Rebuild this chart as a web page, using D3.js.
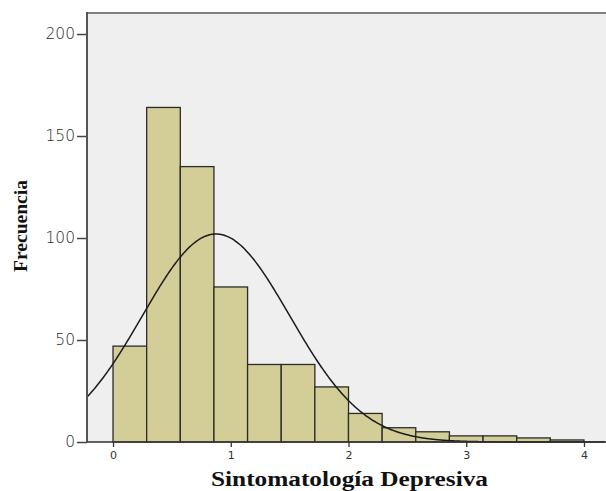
<!DOCTYPE html>
<html>
<head>
<meta charset="utf-8">
<script src="https://cdn.jsdelivr.net/npm/d3@7"></script>
<style>
  body { margin: 0; background: #fff; }
  svg { display: block; }
</style>
</head>
<body>
<div id="chart"></div>
<script>
;(function () {

    // histogram bins: lower edges (width 2/7) and counts
    var binWidth = 2 / 7;
    var binStarts = d3.range(14).map(function (i) { return i * binWidth; });
    var counts = [47, 164, 135, 76, 38, 38, 27, 14, 7, 5, 3, 3, 2, 1];

    var xTicks = [0, 1, 2, 3, 4];
    var yTicks = [0, 50, 100, 150, 200];

    // fitted normal curve parameters
    var mean = 0.875;
    var sd = 0.626;

    var width = 606, height = 491;
    var left = 87, right = 606, top = 13, bottom = 442;

    var svg = d3.select('#chart').append('svg')
        .attr('width', width)
        .attr('height', height);

    var x = d3.scaleLinear().domain([-0.221, 4.187]).range([left, right]);
    var y = d3.scaleLinear().domain([0, 210.3]).range([bottom, top]);

    // plot background
    svg.append('rect')
        .attr('x', left)
        .attr('y', top)
        .attr('width', right - left)
        .attr('height', bottom - top)
        .attr('fill', '#efefef');

    // bars
    svg.selectAll('rect.bar')
        .data(counts)
        .enter()
        .append('rect')
        .attr('class', 'bar')
        .attr('x', function (d, i) { return x(binStarts[i]); })
        .attr('y', function (d) { return y(d); })
        .attr('width', function (d, i) { return x(binStarts[i] + binWidth) - x(binStarts[i]); })
        .attr('height', function (d) { return y(0) - y(d); })
        .attr('fill', '#d3ce97')
        .attr('stroke', '#2b2b2b')
        .attr('stroke-width', 1.3);

    // normal curve
    var n = d3.sum(counts);
    var peak = n * binWidth / (sd * Math.sqrt(2 * Math.PI));
    var curveX = d3.range(x.domain()[0], x.domain()[1], 0.01);
    var line = d3.line()
        .x(function (d) { return x(d); })
        .y(function (d) { return y(peak * Math.exp(-0.5 * Math.pow((d - mean) / sd, 2))); })
        .curve(d3.curveBasis);
    svg.append('path')
        .datum(curveX)
        .attr('d', line)
        .attr('fill', 'none')
        .attr('stroke', '#1a1a1a')
        .attr('stroke-width', 1.5);

    // top border
    svg.append('line')
        .attr('x1', left).attr('x2', right)
        .attr('y1', top).attr('y2', top)
        .attr('stroke', '#808080')
        .attr('stroke-width', 2);

    // y axis
    var yAxis = svg.append('g')
        .attr('transform', 'translate(' + left + ',0)')
        .call(d3.axisLeft(y).tickValues(yTicks).tickSize(10).tickPadding(2));
    yAxis.select('.domain').remove();
    yAxis.append('line')
        .attr('x1', 0).attr('x2', 0)
        .attr('y1', top - 1).attr('y2', bottom)
        .attr('stroke', '#555')
        .attr('stroke-width', 2);
    yAxis.selectAll('.tick line').attr('stroke', '#444').attr('stroke-width', 1.5);
    yAxis.selectAll('.tick text')
        .attr('fill', '#2a2a2a')
        .style('font-family', 'DejaVu Sans')
        .style('font-size', '15.5px')
        .style('font-weight', '300');

    // x axis
    var xAxis = svg.append('g')
        .attr('transform', 'translate(0,' + bottom + ')')
        .call(d3.axisBottom(x).tickValues(xTicks).tickFormat(d3.format('d')).tickSize(5).tickPadding(4));
    xAxis.select('.domain').remove();
    xAxis.append('line')
        .attr('x1', left).attr('x2', right)
        .attr('y1', 0).attr('y2', 0)
        .attr('stroke', '#333')
        .attr('stroke-width', 1.5);
    xAxis.selectAll('.tick line').attr('stroke', '#333').attr('stroke-width', 1.3);
    xAxis.selectAll('.tick text')
        .attr('fill', '#333')
        .style('font-family', 'DejaVu Sans')
        .style('font-size', '11px');

    // axis titles
    svg.append('text')
        .attr('x', 349.5)
        .attr('y', 486)
        .attr('text-anchor', 'middle')
        .attr('textLength', 277)
        .attr('lengthAdjust', 'spacingAndGlyphs')
        .style('font-family', 'Liberation Serif')
        .style('font-weight', 'bold')
        .style('font-size', '20px')
        .attr('fill', '#111')
        .text('Sintomatología Depresiva');

    svg.append('text')
        .attr('transform', 'translate(27,226) rotate(-90)')
        .attr('text-anchor', 'middle')
        .attr('textLength', 92)
        .attr('lengthAdjust', 'spacingAndGlyphs')
        .style('font-family', 'Liberation Serif')
        .style('font-weight', 'bold')
        .style('font-size', '18px')
        .attr('fill', '#111')
        .text('Frecuencia');

})();
</script>
</body>
</html>
